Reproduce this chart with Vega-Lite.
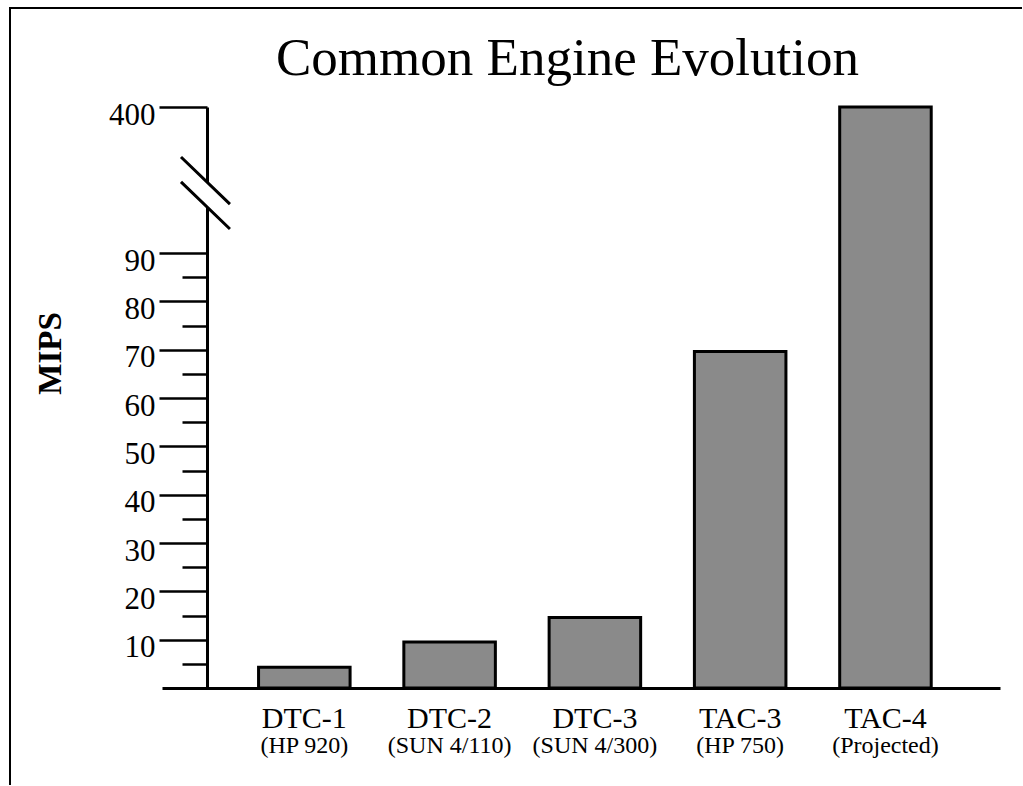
{
  "$schema": "https://vega.github.io/schema/vega-lite/v6.json",
  "width": 1012,
  "height": 777,
  "autosize": {"type": "none"},
  "padding": {"left": 10, "top": 8, "right": 0, "bottom": 0},
  "background": "white",
  "config": {
    "font": "Liberation Serif",
    "view": {"stroke": "black", "strokeWidth": 2, "strokeDash": [1012, 1789, 777]}
  },
  "title": {
    "text": "Common Engine Evolution",
    "font": "Liberation Serif",
    "fontSize": 53,
    "fontWeight": "normal",
    "color": "black",
    "frame": "group",
    "anchor": "middle",
    "baseline": "alphabetic",
    "offset": -67,
    "dx": 51.5,
    "dy": 53
  },
  "data": {
    "values": [
      {"system": "DTC-1", "platform": "(HP 920)", "mips": 4.3},
      {"system": "DTC-2", "platform": "(SUN 4/110)", "mips": 9.5},
      {"system": "DTC-3", "platform": "(SUN 4/300)", "mips": 14.6},
      {"system": "TAC-3", "platform": "(HP 750)", "mips": 69.6},
      {"system": "TAC-4", "platform": "(Projected)", "mips": 400}
    ]
  },
  "layer": [
    {
      "mark": {"type": "bar", "fill": "#8a8a8a", "stroke": "black", "strokeWidth": 3},
      "encoding": {
        "x": {
          "field": "system",
          "type": "nominal",
          "sort": null,
          "scale": {"range": [152, 990], "paddingInner": 0.37, "paddingOuter": 0.569, "align": 0.584},
          "axis": {
            "title": null,
            "orient": "bottom",
            "offset": -97,
            "domain": true,
            "domainColor": "black",
            "domainWidth": 3,
            "ticks": false,
            "tickSize": 0,
            "grid": false,
            "labelFont": "Liberation Serif",
            "labelFontSize": 30,
            "labelColor": "black",
            "labelPadding": 39,
            "labelBaseline": "alphabetic",
            "labelAngle": 0,
            "labelOverlap": false,
            "labelFlush": false,
            "labelBound": false
          }
        },
        "y": {
          "field": "mips",
          "type": "quantitative",
          "scale": {"domain": [0, 90, 400], "range": [680, 245, 99], "zero": false, "nice": false},
          "axis": {
            "title": "MIPS",
            "orient": "left",
            "offset": -197,
            "values": [5, 10, 15, 20, 25, 30, 35, 40, 45, 50, 55, 60, 65, 70, 75, 80, 85, 90, 400],
            "labelExpr": "datum.value % 10 === 5 ? '' : datum.label",
            "tickSize": {"condition": {"test": "datum.value % 10 === 5", "value": 25}, "value": 48},
            "tickWidth": 2.5,
            "tickColor": "black",
            "domainColor": "black",
            "domainWidth": 3,
            "domainDash": [481, 25, 2000],
            "grid": false,
            "labelFont": "Liberation Serif",
            "labelFontSize": 31,
            "labelColor": "black",
            "labelPadding": 4,
            "labelBaseline": "middle",
            "labelOffset": 8,
            "labelOverlap": false,
            "labelFlush": false,
            "labelBound": false,
            "titleFont": "Liberation Serif",
            "titleFontSize": 33,
            "titleFontWeight": "bold",
            "titleColor": "black",
            "titleAngle": 270,
            "titleX": -157,
            "titleY": 345,
            "titleAlign": "center",
            "titleBaseline": "middle"
          }
        }
      }
    },
    {
      "mark": {"type": "text", "font": "Liberation Serif", "fontSize": 24, "color": "black", "baseline": "alphabetic", "dy": 65},
      "encoding": {
        "x": {"field": "system", "type": "nominal", "sort": null},
        "y": {"datum": 0, "type": "quantitative"},
        "text": {"field": "platform"}
      }
    },
    {
      "data": {"values": [{}]},
      "mark": {
        "type": "point",
        "shape": "M-0.68,-1L0.68,0.31M-0.68,-0.31L0.68,1",
        "size": 5184,
        "filled": false,
        "color": "black",
        "strokeWidth": 3,
        "opacity": 1
      },
      "encoding": {
        "x": {"datum": "DTC-1", "type": "nominal", "bandPosition": -0.58},
        "y": {"datum": 217.4, "type": "quantitative"}
      }
    }
  ]
}
